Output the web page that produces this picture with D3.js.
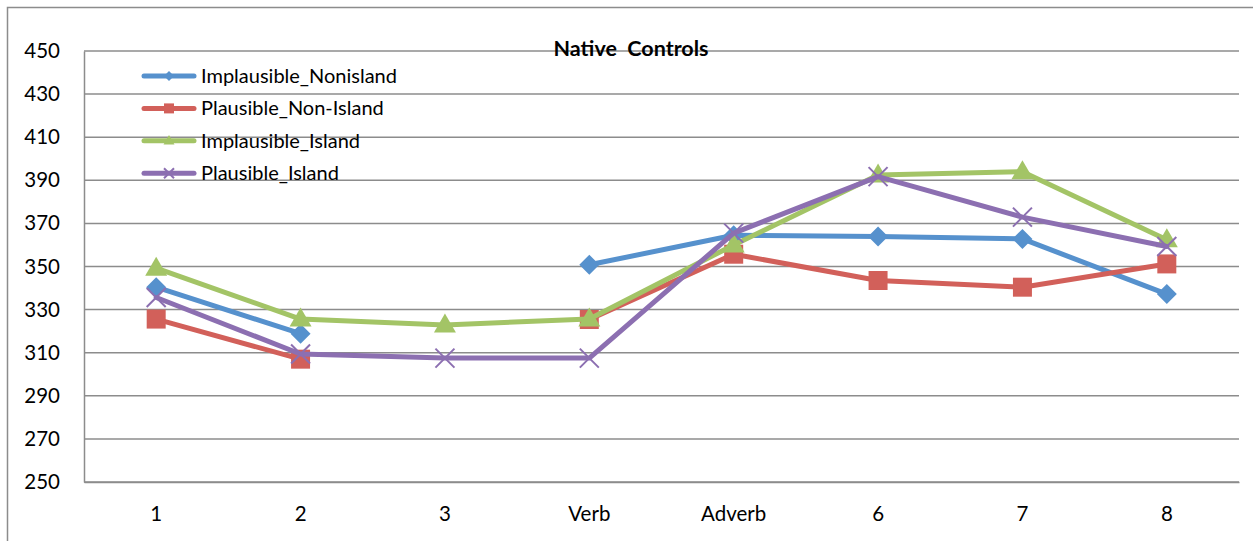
<!DOCTYPE html>
<html>
<head>
<meta charset="utf-8">
<script src="https://cdn.jsdelivr.net/npm/d3@7"></script>
<style>
  html, body { margin: 0; padding: 0; background: #fff; }
  svg { display: block; }
  text { font-family: Lato, "Open Sans", sans-serif; fill: #000; }
</style>
</head>
<body>
<svg id="chart" width="1253" height="541"></svg>
<script>
// Reaction-time means per region, native control group
const categories = ["1", "2", "3", "Verb", "Adverb", "6", "7", "8"];
const yTicks = [250, 270, 290, 310, 330, 350, 370, 390, 410, 430, 450];

const implausibleNonisland = [340.4, 318.8, null, 350.8, 364.5, 363.9, 362.8, 337.2];
const plausibleNonIsland   = [325.6, 307.0, null, 325.4, 355.7, 343.5, 340.4, 351.2];
const implausibleIsland    = [349.2, 325.6, 322.9, 325.6, 360.0, 392.5, 394.0, 362.4];
const plausibleIsland      = [335.6, 309.4, 307.5, 307.5, 365.5, 391.7, 372.9, 359.3];

const seriesNames  = ["Implausible_Nonisland", "Plausible_Non-Island", "Implausible_Island", "Plausible_Island"];
const seriesColors = ["#5691CD", "#D2605A", "#A3C466", "#8C6FB1"];
const seriesShapes = ["diamond", "square", "triangle", "cross"];

const series = [implausibleNonisland, plausibleNonIsland, implausibleIsland, plausibleIsland]
  .map((values, i) => ({ name: seriesNames[i], color: seriesColors[i], shape: seriesShapes[i], values }));

const svg = d3.select("#chart");
const plot = { left: 84, right: 1239, top: 51, bottom: 482 };

const x = d3.scaleBand().domain(categories).range([plot.left, plot.right]);
const y = d3.scaleLinear().domain([250, 450]).range([plot.bottom, plot.top]);
const cx = c => x(c) + x.bandwidth() / 2;

// outer chart frame (left and top edges)
svg.append("path")
  .attr("d", "M7.5,541 L7.5,7.5 L1253,7.5")
  .attr("fill", "none").attr("stroke", "#8c8c8c").attr("stroke-width", 1.5);

// horizontal gridlines
svg.append("g").selectAll("line").data(yTicks).join("line")
  .attr("x1", plot.left).attr("x2", plot.right)
  .attr("y1", d => y(d)).attr("y2", d => y(d))
  .attr("stroke", "#8c8c8c").attr("stroke-width", 1.5);

// y axis
const yAxis = svg.append("g")
  .attr("transform", `translate(${plot.left},0)`)
  .call(d3.axisLeft(y).tickValues(yTicks).tickSize(0).tickPadding(24));
yAxis.select(".domain").attr("stroke", "#8c8c8c").attr("stroke-width", 1.5);
yAxis.selectAll("text").style("font-family", "Lato, sans-serif").style("font-size", "20.5px").attr("fill", "#000");

// x axis
const xAxis = svg.append("g")
  .attr("transform", `translate(0,${plot.bottom})`)
  .call(d3.axisBottom(x).tickSize(0).tickPadding(24));
xAxis.select(".domain").attr("stroke", "#8c8c8c").attr("stroke-width", 1.5);
xAxis.selectAll("text").style("font-family", "Lato, sans-serif").style("font-size", "20.5px").attr("fill", "#000");

// title
svg.append("text")
  .attr("x", 631).attr("y", 56)
  .attr("text-anchor", "middle")
  .style("font-size", "21.5px").style("font-weight", "bold")
  .style("white-space", "pre")
  .text("Native  Controls");

// marker paths centred on 0,0
function markerPath(shape, s) {
  const h = s / 2;
  if (shape === "diamond") return `M0,${-h}L${h},0L0,${h}L${-h},0Z`;
  if (shape === "square") return `M${-h},${-h}H${h}V${h}H${-h}Z`;
  if (shape === "triangle") return `M0,${-h * 1.15}L${h * 1.1},${h * 0.75}L${-h * 1.1},${h * 0.75}Z`;
  return `M${-h},${-h}L${h},${h}M${-h},${h}L${h},${-h}`;
}
function drawMarker(g, shape, color, size) {
  const p = g.append("path").attr("d", markerPath(shape, size));
  if (shape === "cross") p.attr("fill", "none").attr("stroke", color).attr("stroke-width", 2);
  else p.attr("fill", color).attr("stroke", "none");
}

const line = d3.line()
  .defined(d => d.v != null)
  .x(d => cx(d.c))
  .y(d => y(d.v));

const seriesG = svg.append("g");
series.forEach(s => {
  const pts = s.values.map((v, i) => ({ c: categories[i], v }));
  seriesG.append("path")
    .datum(pts)
    .attr("d", line)
    .attr("fill", "none")
    .attr("stroke", s.color)
    .attr("stroke-width", 5)
    .attr("stroke-linejoin", "round")
    .attr("stroke-linecap", "round");
  pts.filter(d => d.v != null).forEach(d => {
    const g = seriesG.append("g").attr("transform", `translate(${cx(d.c)},${y(d.v)})`);
    drawMarker(g, s.shape, s.color, s.shape === "triangle" ? 20 : (s.shape === "diamond" ? 20 : 19));
  });
});

// legend
const legend = svg.append("g");
series.forEach((s, i) => {
  const ly = 76 + i * 32.4;
  legend.append("line")
    .attr("x1", 144).attr("x2", 194).attr("y1", ly).attr("y2", ly)
    .attr("stroke", s.color).attr("stroke-width", 5).attr("stroke-linecap", "round");
  const g = legend.append("g").attr("transform", `translate(169,${ly})`);
  drawMarker(g, s.shape, s.color, 10);
  legend.append("text")
    .attr("x", 201).attr("y", ly).attr("dy", "0.35em")
    .style("font-size", "20px")
    .text(s.name);
});
</script>
</body>
</html>
